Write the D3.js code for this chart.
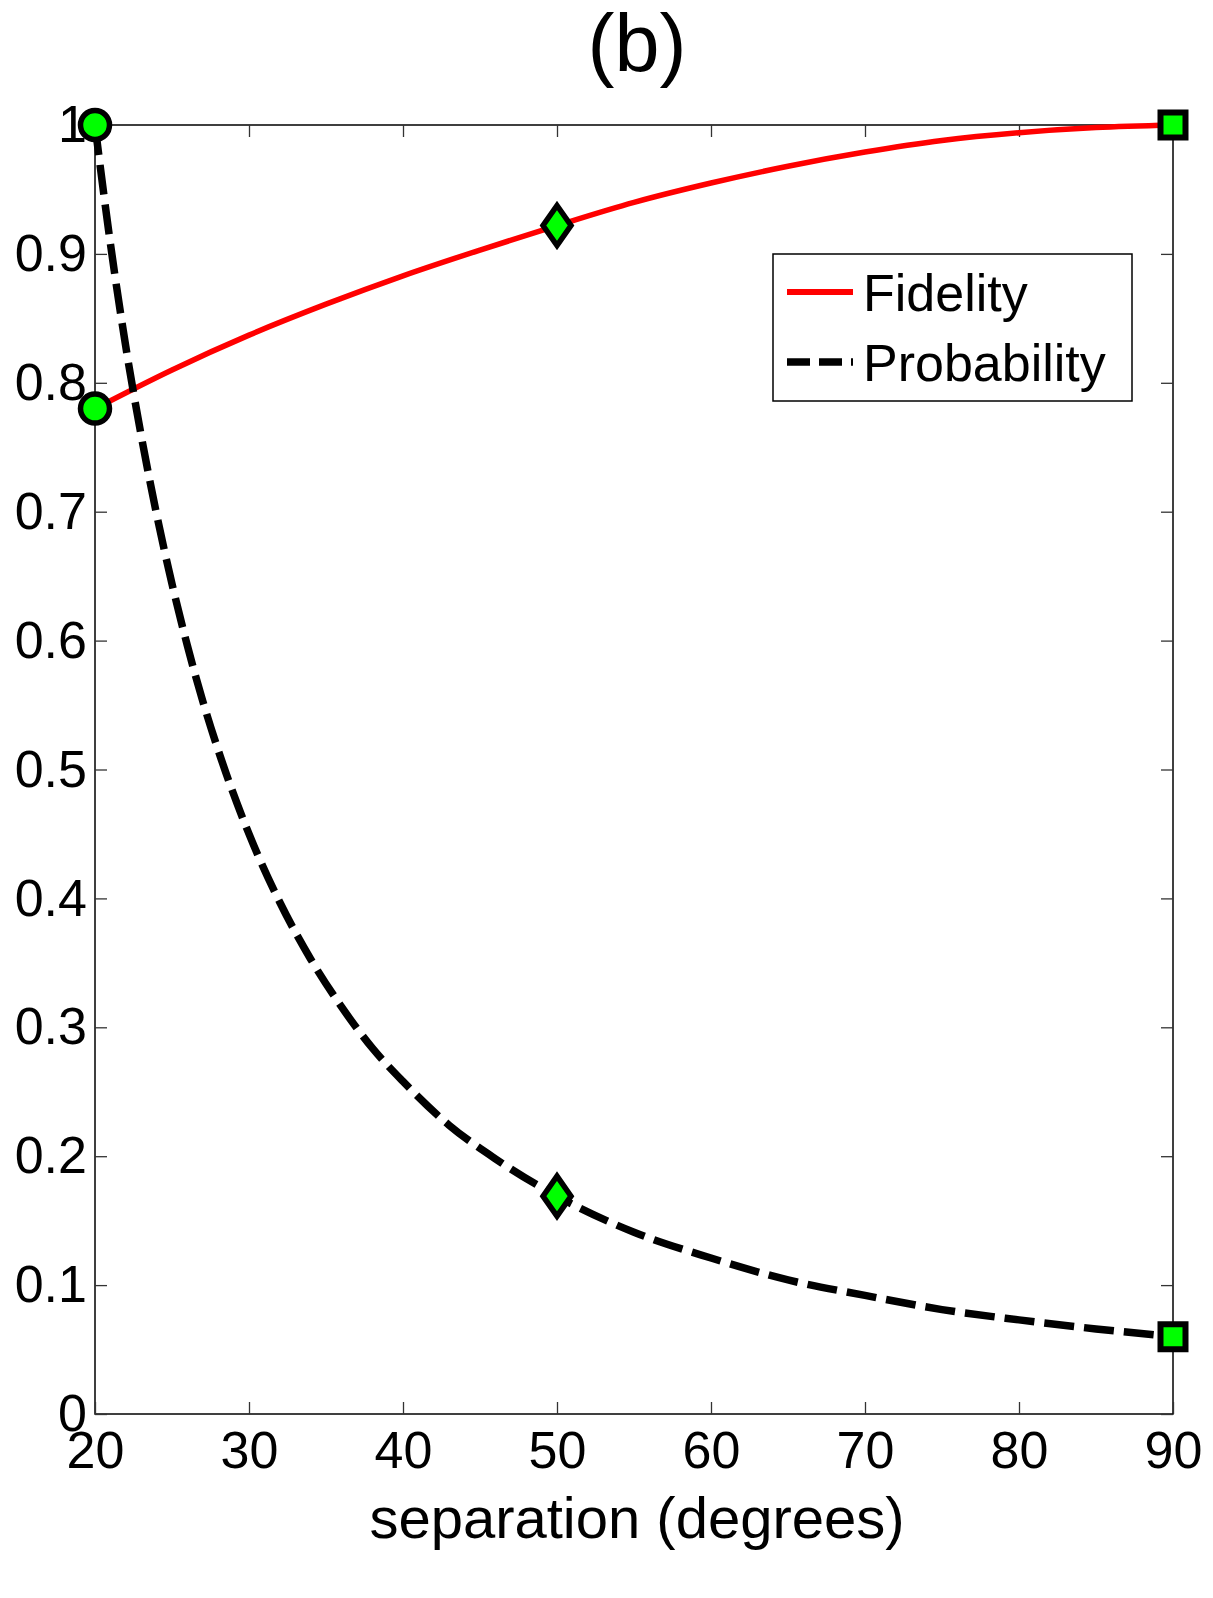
<!DOCTYPE html>
<html><head><meta charset="utf-8">
<script src="https://cdn.jsdelivr.net/npm/d3@7"></script>
<style>
body{margin:0;background:#fff}
text{font-family:"Liberation Sans",Arial,Helvetica,sans-serif;fill:#000}
</style>
</head><body>
<svg id="chart" width="1213" height="1598"></svg>
<script>
// ---- data ----
const fidelityX = [20,25,30,35,40,45,50,55,60,65,70,75,80,85,90];
const fidelityY = [0.780,0.810,0.837,0.861,0.883,0.903,0.922,0.940,0.955,0.968,0.979,0.988,0.994,0.998,1.000];

const probabilityX = [20,21,22,23,24,25,26,27,28,30,32,34,36,38,40,43,46,50,55,60,65,70,75,80,85,90];
const probabilityY = [1.000,0.908,0.828,0.759,0.698,0.644,0.596,0.553,0.515,0.450,0.397,0.353,0.316,0.284,0.258,0.224,0.198,0.169,0.141,0.121,0.104,0.092,0.081,0.073,0.066,0.060];

const markerX = [20,50,90];
const markerShapes = ["circle","diamond","square"];
const markerFidelity = [0.780,0.922,1.000];
const markerProbability = [1.000,0.169,0.060];

const xTicks = [20,30,40,50,60,70,80,90];
const yTicks = [0,0.1,0.2,0.3,0.4,0.5,0.6,0.7,0.8,0.9,1];
const yTickLabels = ["0","0.1","0.2","0.3","0.4","0.5","0.6","0.7","0.8","0.9","1"];

const seriesNames = ["Fidelity","Probability"];
const titleText = "(b)";
const xLabelText = "separation (degrees)";

// ---- layout ----
const L = 95, R = 1173, T = 125, B = 1414;
const svg = d3.select("#chart");
const x = d3.scaleLinear().domain([20,90]).range([L,R]);
const y = d3.scaleLinear().domain([0,1]).range([B,T]);

// frame
svg.append("rect").attr("x",L).attr("y",T).attr("width",R-L).attr("height",B-T)
  .attr("fill","none").attr("stroke","#000").attr("stroke-width",1.5);

const tickFont = 52;
function styleAxis(g){
  g.select(".domain").remove();
  g.selectAll(".tick line").attr("stroke","#333").attr("stroke-width",1.3);
  g.selectAll(".tick text").attr("font-size",tickFont).attr("fill","#000")
    .style("font-family",'"Liberation Sans",Arial,Helvetica,sans-serif');
}
svg.append("g").attr("transform",`translate(0,${B})`)
  .call(d3.axisBottom(x).tickValues(xTicks).tickFormat(d3.format("d")).tickSizeInner(-12).tickSizeOuter(0).tickPadding(17))
  .call(styleAxis);
svg.append("g").attr("transform",`translate(0,${T})`)
  .call(d3.axisTop(x).tickValues(xTicks).tickFormat("").tickSizeInner(-12).tickSizeOuter(0))
  .call(styleAxis);
svg.append("g").attr("transform",`translate(${L},0)`)
  .call(d3.axisLeft(y).tickValues(yTicks).tickFormat((d,i)=>yTickLabels[i]).tickSizeInner(-12).tickSizeOuter(0).tickPadding(8))
  .call(styleAxis);
svg.append("g").attr("transform",`translate(${R},0)`)
  .call(d3.axisRight(y).tickValues(yTicks).tickFormat("").tickSizeInner(-12).tickSizeOuter(0))
  .call(styleAxis);

// lines
const line = d3.line().x(d=>x(d[0])).y(d=>y(d[1])).curve(d3.curveMonotoneX);
const fidData = fidelityX.map((v,i)=>[v,fidelityY[i]]);
const probData = probabilityX.map((v,i)=>[v,probabilityY[i]]);

svg.append("path").datum(fidData).attr("d",line)
  .attr("fill","none").attr("stroke","#ff0000").attr("stroke-width",5.5);
svg.append("path").datum(probData).attr("d",line)
  .attr("fill","none").attr("stroke","#000").attr("stroke-width",7.5)
  .attr("stroke-dasharray","30,10");

// markers
function shapePath(s){
  if(s==="circle") return d3.symbol().type(d3.symbolCircle).size(Math.PI*14.5*14.5)();
  if(s==="square") return "M-12.5,-12.5L12.5,-12.5L12.5,12.5L-12.5,12.5Z";
  return "M0,-20L14,0L0,20L-14,0Z";
}
const markers = [];
markerX.forEach((mx,i)=>{
  markers.push({x:mx,y:markerFidelity[i],s:markerShapes[i]});
  markers.push({x:mx,y:markerProbability[i],s:markerShapes[i]});
});
svg.append("g").selectAll("path").data(markers).join("path")
  .attr("transform",d=>`translate(${x(d.x)},${y(d.y)})`)
  .attr("d",d=>shapePath(d.s))
  .attr("fill","#00ff00").attr("stroke","#000")
  .attr("stroke-width",d=>d.s==="square"?6:5.5)
  .attr("stroke-linejoin","miter");

// legend
const lg = svg.append("g");
lg.append("rect").attr("x",773).attr("y",254).attr("width",359).attr("height",147)
  .attr("fill","#fff").attr("stroke","#000").attr("stroke-width",1.5);
const legendItems = seriesNames.map((n,i)=>({name:n,i}));
const li = lg.selectAll("g.item").data(legendItems).join("g").attr("class","item")
  .attr("transform",d=>`translate(0,${292 + d.i*70})`);
li.append("line").attr("x1",787).attr("x2",853).attr("y1",0).attr("y2",0)
  .attr("stroke",d=>d.i===0?"#ff0000":"#000")
  .attr("stroke-width",d=>d.i===0?6:7.5)
  .attr("stroke-dasharray",d=>d.i===0?null:"23,9");
li.append("text").attr("x",863).attr("y",19).attr("font-size",52).text(d=>d.name);

// title and x label
svg.append("text").attr("x",637).attr("y",71).attr("text-anchor","middle")
  .attr("font-size",81).text(titleText);
svg.append("text").attr("x",(L+R)/2+3).attr("y",1538).attr("text-anchor","middle")
  .attr("font-size",58).text(xLabelText);
</script>
</body></html>
